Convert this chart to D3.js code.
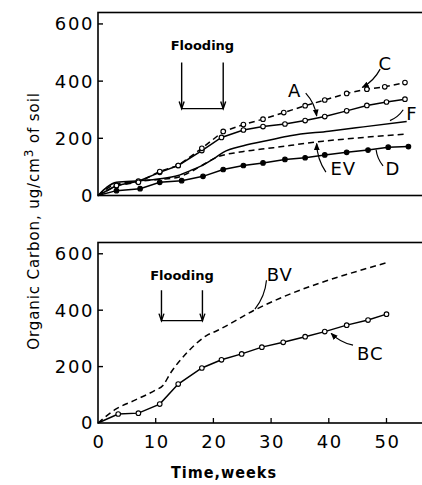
<!DOCTYPE html>
<html><head><meta charset="utf-8">
<script src="https://cdn.jsdelivr.net/npm/d3@7"></script>
<style>body{margin:0;background:#fff}svg{display:block}</style>
</head><body>
<svg id="chart" width="422" height="485"></svg>
<script>
// ---- data ----
const xTicks = [0, 10, 20, 30, 40, 50];
const yTicks = [0, 200, 400, 600];
const xLabel = "Time,weeks";
const yLabelMain = "Organic Carbon,  ug/cm";
const yLabelSup = "3";
const yLabelTail = "  of soil";

// top panel
const cWeeks  = [0, 3.2, 7, 10.7, 13.9, 18, 21.7, 25.2, 28.6, 32.2, 35.9, 39.3, 43.1, 46.6, 49.7, 53.2];
const cValues = [0, 35, 46, 84, 105, 165, 224, 248, 267, 290, 314, 334, 357, 372, 380, 395];
const aWeeks  = [0, 3.2, 7, 10.7, 13.9, 18, 21.4, 25.2, 28.6, 32.4, 35.9, 39.3, 43.1, 46.6, 50, 53.2];
const aValues = [0, 35, 50, 81, 105, 157, 203, 229, 241, 250, 262, 276, 296, 315, 327, 337];
const fWeeks  = [0, 3.2, 7.3, 10.5, 13.9, 16, 18.5, 20, 21.7, 25.2, 30, 33.3, 40, 46, 53.5];
const fValues = [0, 46, 52, 58, 70, 87, 110, 128, 151, 174, 195, 209, 225, 240, 259];
const evWeeks  = [0, 3.2, 7.3, 10.5, 13.9, 15.4, 18, 20.6, 24.6, 30.4, 39, 46, 53.5];
const evValues = [0, 40, 50, 56, 64, 76, 105, 134, 152, 167, 190, 203, 215];
const dWeeks  = [0, 3.2, 7.3, 10.7, 14.5, 18.2, 21.7, 25.2, 28.6, 32.4, 35.9, 39.3, 43.1, 46.8, 50.3, 53.8];
const dValues = [0, 17, 24, 46, 52, 67, 91, 105, 114, 126, 132, 142, 151, 159, 169, 171];

// bottom panel
const bcWeeks  = [0, 3.5, 7, 10.7, 13.9, 18, 21.4, 24.9, 28.4, 32.1, 35.9, 39.3, 43.1, 46.8, 50];
const bcValues = [0, 32, 35, 67, 138, 195, 224, 245, 269, 286, 306, 324, 347, 365, 386];
const bvWeeks  = [0, 3, 6.4, 9.9, 11.3, 12.5, 15, 17.1, 18.8, 20.6, 26.9, 50];
const bvValues = [0, 48, 81, 116, 134, 175, 240, 283, 310, 327, 398, 568];

// flooding periods (weeks) and bracket extent (value units)
const floodTop = [14.5, 21.7];
const floodTopSpan = [304, 465];
const floodBottom = [11, 18.1];
const floodBottomSpan = [363, 471];

// curve labels: text, label position, leader start, leader end (weeks, value)
const topLabels = [
  {t: "C",  lx: 49.8, ly: 462, x1: 48.9, y1: 442, x2: 45.8, y2: 378, arrow: true},
  {t: "A",  lx: 34.1, ly: 368, x1: 36.0, y1: 358, x2: 37.9, y2: 278, arrow: true},
  {t: "F",  lx: 54.4, ly: 288, x1: 52.9, y1: 300, x2: 50.6, y2: 262, arrow: false},
  {t: "EV", lx: 42.5, ly: 94,  x1: 39.5, y1: 82,  x2: 37.9, y2: 182, arrow: true},
  {t: "D",  lx: 51.1, ly: 94,  x1: 49.4, y1: 104, x2: 48.2, y2: 160, arrow: false}
];
const bottomLabels = [
  {t: "BV", lx: 31.5, ly: 525, x1: 29.2, y1: 506, x2: 27.2, y2: 404, arrow: false},
  {t: "BC", lx: 47.2, ly: 248, x1: 44.2, y1: 276, x2: 40.4, y2: 318, arrow: true}
];

// ---- drawing ----
const svg = d3.select("#chart");
const defs = svg.append("defs");
defs.append("marker").attr("id", "arr").attr("viewBox", "0 0 10 10")
  .attr("refX", 9).attr("refY", 5).attr("markerWidth", 6).attr("markerHeight", 6)
  .attr("orient", "auto")
  .append("path").attr("d", "M0,1 L10,5 L0,9 z").attr("fill", "#000");

const x = d3.scaleLinear().domain([0, 56.5]).range([98, 424]);
const yTop = d3.scaleLinear().domain([0, 640]).range([195.5, 12.5]);
const yBot = d3.scaleLinear().domain([0, 640]).range([423, 242.5]);

const tickFont = "'DejaVu Sans', sans-serif";

function frame(y) {
  const g = svg.append("g");
  g.append("rect").attr("x", x(0)).attr("y", y(640)).attr("width", x(56.5) - x(0))
    .attr("height", y(0) - y(640)).attr("fill", "none").attr("stroke", "#000").attr("stroke-width", 1.6);
  g.selectAll(".yt").data(yTicks.filter(d => d > 0)).enter().append("line")
    .attr("x1", x(0)).attr("x2", x(0) + 5).attr("y1", d => y(d)).attr("y2", d => y(d))
    .attr("stroke", "#000").attr("stroke-width", 1.4);
  g.selectAll(".yl").data(yTicks).enter().append("text")
    .attr("x", x(0) - 4).attr("y", d => y(d)).attr("dy", "0.36em")
    .attr("text-anchor", "end").attr("font-family", tickFont).attr("font-size", 18)
    .attr("letter-spacing", 1.6).text(d => d);
  return g;
}

function series(g, y, wk, vals, opts) {
  const pts = wk.map((w, i) => [w, vals[i]]);
  const line = d3.line().x(d => x(d[0])).y(d => y(d[1]))
    .curve(opts.smooth ? d3.curveMonotoneX : d3.curveLinear);
  g.append("path").attr("d", line(pts)).attr("fill", "none").attr("stroke", "#000")
    .attr("stroke-width", 1.5).attr("stroke-dasharray", opts.dash ? "6,4" : null);
  if (opts.marker) {
    g.selectAll(null).data(pts.slice(1)).enter().append("circle")
      .attr("cx", d => x(d[0])).attr("cy", d => y(d[1])).attr("r", 2.3)
      .attr("fill", opts.marker === "filled" ? "#000" : "#fff")
      .attr("stroke", "#000").attr("stroke-width", 1.1);
  }
}

function flood(g, y, period, span, labelY) {
  const x0 = x(period[0]), x1 = x(period[1]);
  const yt = y(span[1]), yb = y(span[0]);
  g.append("path").attr("d", `M${x0},${yt} L${x0},${yb} L${x1},${yb} L${x1},${yt}`)
    .attr("fill", "none").attr("stroke", "#000").attr("stroke-width", 1.4);
  [x0, x1].forEach(xx => {
    g.append("path").attr("d", `M${xx - 2.5},${yb - 7} L${xx},${yb} L${xx + 2.5},${yb - 7}`)
      .attr("fill", "none").attr("stroke", "#000").attr("stroke-width", 1.4);
  });
  g.append("text").attr("x", (x0 + x1) / 2).attr("y", y(labelY))
    .attr("text-anchor", "middle").attr("font-family", tickFont).attr("font-weight", "bold")
    .attr("font-size", 13).text("Flooding");
}

function labels(g, y, list) {
  list.forEach(l => {
    const ax = x(l.x1), ay = y(l.y1), bx = x(l.x2), by = y(l.y2);
    const mx = (ax + bx) / 2 + (by - ay) * 0.15, my = (ay + by) / 2 - (bx - ax) * 0.15;
    g.append("path").attr("d", `M${ax},${ay} Q${mx},${my} ${bx},${by}`)
      .attr("fill", "none").attr("stroke", "#000").attr("stroke-width", 1.2)
      .attr("marker-end", l.arrow ? "url(#arr)" : null);
    g.append("text").attr("x", x(l.lx)).attr("y", y(l.ly)).attr("dy", "0.36em")
      .attr("text-anchor", "middle").attr("font-family", tickFont).attr("font-size", 18)
      .attr("letter-spacing", 1).text(l.t);
  });
}

// top panel
const gTop = frame(yTop);
series(gTop, yTop, evWeeks, evValues, {dash: true, smooth: true});
series(gTop, yTop, fWeeks, fValues, {smooth: true});
series(gTop, yTop, dWeeks, dValues, {marker: "filled"});
series(gTop, yTop, aWeeks, aValues, {marker: "open"});
series(gTop, yTop, cWeeks, cValues, {dash: true, marker: "open"});
flood(gTop, yTop, floodTop, floodTopSpan, 508);
labels(gTop, yTop, topLabels);

// bottom panel
const gBot = frame(yBot);
gBot.selectAll(".xt").data(xTicks.filter(d => d > 0)).enter().append("line")
  .attr("x1", d => x(d)).attr("x2", d => x(d)).attr("y1", yBot(0)).attr("y2", yBot(0) - 5)
  .attr("stroke", "#000").attr("stroke-width", 1.3);
gBot.selectAll(".xl").data(xTicks).enter().append("text")
  .attr("x", d => x(d) + 1).attr("y", 441.5).attr("dy", "0.36em").attr("text-anchor", "middle")
  .attr("font-family", tickFont).attr("font-size", 18).attr("letter-spacing", 1.6).text(d => d);
series(gBot, yBot, bvWeeks, bvValues, {dash: true, smooth: true});
series(gBot, yBot, bcWeeks, bcValues, {marker: "open"});
flood(gBot, yBot, floodBottom, floodBottomSpan, 508);
labels(gBot, yBot, bottomLabels);

// axis titles
svg.append("text").attr("x", 224).attr("y", 478).attr("text-anchor", "middle")
  .attr("font-family", "'DejaVu Sans Condensed', 'DejaVu Sans', sans-serif").attr("font-weight", "bold")
  .attr("font-size", 16).attr("letter-spacing", 1).text(xLabel);
const yt = svg.append("text").attr("transform", "translate(39,221) rotate(-90)")
  .attr("text-anchor", "middle").attr("font-family", tickFont).attr("font-size", 15)
  .attr("letter-spacing", 0.9);
yt.append("tspan").text(yLabelMain);
yt.append("tspan").attr("dy", -6).attr("font-size", 12).text(yLabelSup);
yt.append("tspan").attr("dy", 6).text(yLabelTail);
</script>
</body></html>
